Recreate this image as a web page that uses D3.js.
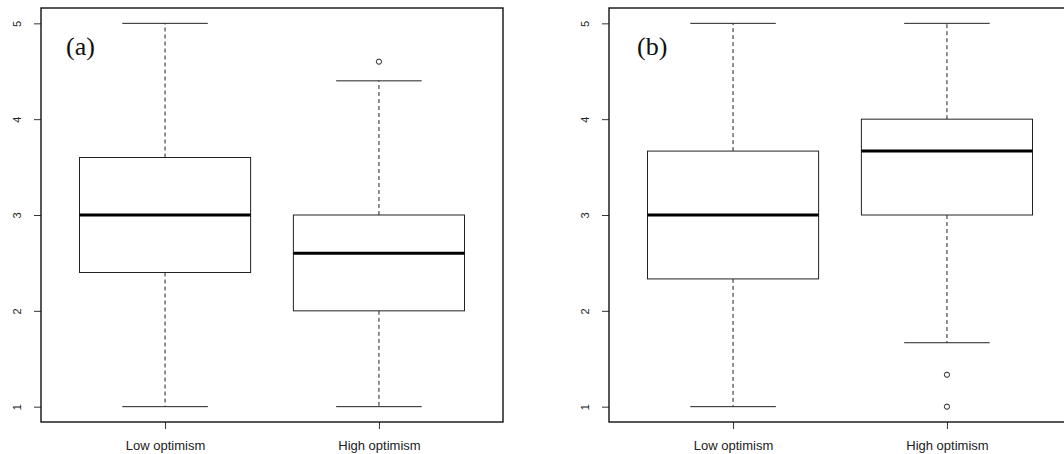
<!DOCTYPE html>
<html lang="en">
<head>
    <meta charset="UTF-8">
    <title>Boxplots - optimism</title>
    <script src="https://d3js.org/d3.v7.min.js"></script>
    <style>
        body { margin: 0; background: #fff; }
        text { font-family: "Liberation Sans", Arial, sans-serif; fill: #222; }
    </style>
</head>
<body>
<script>
    // data
    var categories = ["Low optimism", "High optimism"];
    var yTicks = [1, 2, 3, 4, 5];
    var panelLabels = ["(a)", "(b)"];
    // [lower whisker, q1, median, q3, upper whisker] per category
    var statsA = [[1, 2.4, 3, 3.6, 5], [1, 2, 2.6, 3, 4.4]];
    var statsB = [[1, 2.333, 3, 3.667, 5], [1.667, 3, 3.667, 4, 5]];
    var outliersA = [[], [4.6]];
    var outliersB = [[], [1.333, 1]];

    var width = 1064, height = 454;
    var svg = d3.select("body").append("svg")
        .attr("width", width)
        .attr("height", height);

    var panels = [
        {left: 41, stats: statsA, out: outliersA, label: panelLabels[0], labelX: 66},
        {left: 609, stats: statsB, out: outliersB, label: panelLabels[1], labelX: 637}
    ];
    var pw = 462, plotTop = 8, plotBottom = 422;

    // R style ylim extension (4%)
    var y = d3.scaleLinear().domain([0.84, 5.16]).range([plotBottom, plotTop]);

    panels.forEach(function(p) {
        var x = d3.scalePoint().domain(categories)
            .range([p.left, p.left + pw]).padding(0.58);
        var step = x.step();
        var g = svg.append("g");

        // y axis
        var ya = g.append("g").attr("transform", "translate(" + p.left + ",0)")
            .call(d3.axisLeft(y).tickValues(yTicks).tickSize(7).tickFormat(d3.format("d")));
        ya.select(".domain").remove();
        ya.selectAll("line").attr("stroke", "#333");
        ya.selectAll("text")
            .attr("x", null).attr("dy", null)
            .attr("text-anchor", "middle")
            .attr("font-size", 11)
            .attr("transform", function(d) { return "translate(" + (-20) + ",0) rotate(-90)"; })
            .attr("y", 0);

        // x axis
        var xa = g.append("g").attr("transform", "translate(0," + plotBottom + ")")
            .call(d3.axisBottom(x).tickSize(7).tickPadding(12));
        xa.select(".domain").remove();
        xa.selectAll("line").attr("stroke", "#333");
        xa.selectAll("text").attr("font-size", 13);

        // boxes
        var boxW = 0.8 * step, capW = 0.4 * step;
        var b = g.selectAll(".box").data(p.stats).enter().append("g")
            .attr("class", "box")
            .attr("transform", function(d, i) { return "translate(" + x(categories[i]) + ",0)"; });

        // whiskers (dashed)
        b.append("line").attr("x1", 0).attr("x2", 0)
            .attr("y1", function(d) { return y(d[3]); })
            .attr("y2", function(d) { return y(d[4]); })
            .attr("stroke", "#222").attr("stroke-dasharray", "4,3");
        b.append("line").attr("x1", 0).attr("x2", 0)
            .attr("y1", function(d) { return y(d[1]); })
            .attr("y2", function(d) { return y(d[0]); })
            .attr("stroke", "#222").attr("stroke-dasharray", "4,3");
        // caps
        b.append("line").attr("x1", -capW / 2).attr("x2", capW / 2)
            .attr("y1", function(d) { return y(d[4]); })
            .attr("y2", function(d) { return y(d[4]); })
            .attr("stroke", "#222");
        b.append("line").attr("x1", -capW / 2).attr("x2", capW / 2)
            .attr("y1", function(d) { return y(d[0]); })
            .attr("y2", function(d) { return y(d[0]); })
            .attr("stroke", "#222");
        // box
        b.append("rect").attr("x", -boxW / 2).attr("width", boxW)
            .attr("y", function(d) { return y(d[3]); })
            .attr("height", function(d) { return y(d[1]) - y(d[3]); })
            .attr("fill", "#fff").attr("stroke", "#222");
        // median
        b.append("line").attr("x1", -boxW / 2).attr("x2", boxW / 2)
            .attr("y1", function(d) { return y(d[2]); })
            .attr("y2", function(d) { return y(d[2]); })
            .attr("stroke", "#000").attr("stroke-width", 3);

        // outliers
        p.out.forEach(function(vals, i) {
            g.selectAll(null).data(vals).enter().append("circle")
                .attr("cx", x(categories[i]))
                .attr("cy", function(d) { return y(d); })
                .attr("r", 2.6)
                .attr("fill", "none").attr("stroke", "#222");
        });

        // frame
        g.append("rect")
            .attr("x", p.left).attr("y", plotTop)
            .attr("width", pw).attr("height", plotBottom - plotTop)
            .attr("fill", "none").attr("stroke", "#111").attr("stroke-width", 1.4);

        // panel label
        g.append("text").attr("x", p.labelX).attr("y", 55)
            .style("font-family", "'Liberation Serif', 'DejaVu Serif', serif")
            .style("font-size", "26px").style("fill", "#111")
            .text(p.label);
    });
</script>
</body>
</html>
